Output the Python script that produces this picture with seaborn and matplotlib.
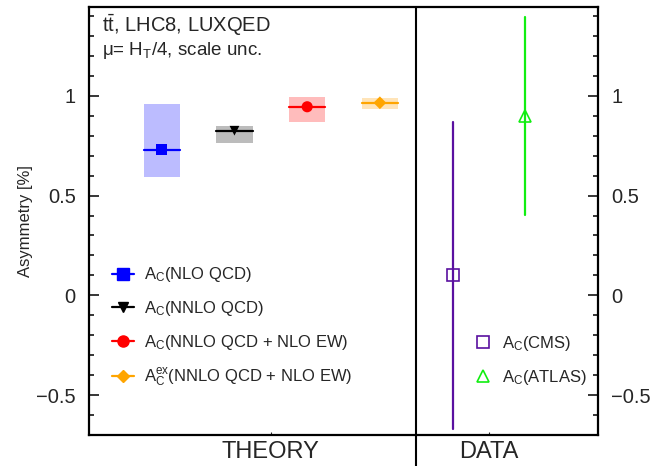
import numpy as np
import pandas as pd
import matplotlib
matplotlib.use('Agg')
import matplotlib.pyplot as plt
from matplotlib.lines import Line2D
from matplotlib.ticker import MultipleLocator, FixedLocator
import seaborn as sns

# --- Data ---
theory_labels = ['$\\mathrm{A_C}$(NLO QCD)',
                 '$\\mathrm{A_C}$(NNLO QCD)',
                 '$\\mathrm{A_C}$(NNLO QCD + NLO EW)',
                 '$\\mathrm{A_C^{ex}}$(NNLO QCD + NLO EW)']
theory_pos = [1, 2, 3, 4]
theory_val = [0.73, 0.825, 0.945, 0.965]
theory_lo = [0.595, 0.765, 0.87, 0.935]
theory_hi = [0.96, 0.85, 0.995, 0.99]

data_labels = ['$\\mathrm{A_C}$(CMS)', '$\\mathrm{A_C}$(ATLAS)']
data_pos = [5, 6]
data_val = [0.10, 0.90]
data_lo = [-0.67, 0.405]
data_hi = [0.87, 1.395]

group_labels = ['THEORY', 'DATA']
group_pos = [2.5, 5.5]
divider_pos = 4.5

ytick_vals = [-0.5, 0, 0.5, 1]
ytick_labels = ['\u22120.5', '0', '0.5', '1']

# --- Style ---
sns.set_theme(style="ticks")
plt.rcParams['font.family'] = ['Liberation Sans', 'DejaVu Sans']
plt.rcParams['mathtext.fontset'] = 'custom'
plt.rcParams['mathtext.rm'] = 'Liberation Sans'
plt.rcParams['mathtext.it'] = 'Liberation Sans:italic'
plt.rcParams['mathtext.bf'] = 'Liberation Sans:bold'

theory_colors = ['#0000ff', '#000000', '#ff0000', '#ffa500']
theory_fills = ['#bcbcff', '#bcbcbc', '#ffbcbc', '#ffe4b8']
theory_markers = ['s', 'v', 'o', 'D']
theory_ms = [8, 7, 8, 6.5]
data_colors = ['#5a10a0', '#11ee11']
data_markers = ['s', '^']

fig = plt.figure(figsize=(6.5, 4.66), dpi=100)
ax = fig.add_axes([0.137, 0.0665, 0.783, 0.9185])

# theory: scale-uncertainty boxes with central line + marker
for i in range(len(theory_pos)):
    x = theory_pos[i]
    ax.bar(x, theory_hi[i] - theory_lo[i], bottom=theory_lo[i], width=0.5,
           color=theory_fills[i], edgecolor='none', zorder=1)
    ax.plot([x - 0.25, x + 0.25], [theory_val[i]] * 2, color=theory_colors[i],
            lw=1.6, zorder=2)

df_th = pd.DataFrame({'x': theory_pos, 'y': theory_val, 'lab': theory_labels})
sns.scatterplot(data=df_th, x='x', y='y', hue='lab', style='lab', size='lab',
                palette=dict(zip(theory_labels, theory_colors)),
                markers=dict(zip(theory_labels, theory_markers)),
                sizes=dict(zip(theory_labels, [m ** 2 for m in theory_ms])),
                edgecolor='none', legend=False, ax=ax, zorder=3)

# data: error bars with open markers
for i in range(len(data_pos)):
    ax.plot([data_pos[i]] * 2, [data_lo[i], data_hi[i]], color=data_colors[i],
            lw=1.6, zorder=2)
    ax.plot(data_pos[i], data_val[i], linestyle='none', marker=data_markers[i],
            ms=9, mfc='none', mec=data_colors[i], mew=1.2, zorder=3)

# divider between theory and data
ax.axvline(divider_pos, ymin=-0.075, ymax=1, color='black', lw=1.5,
           clip_on=False, zorder=4)

# --- Axes ---
ax.set_xlim(0, 7)
ax.set_ylim(-0.7, 1.445)
ax.xaxis.set_major_locator(FixedLocator(group_pos))
ax.set_xticklabels(group_labels, fontsize=17)
ax.yaxis.set_major_locator(FixedLocator(ytick_vals))
ax.set_yticklabels(ytick_labels, fontsize=14.5)
ax.yaxis.set_minor_locator(MultipleLocator(0.1))
ax.tick_params(axis='y', which='both', direction='in', left=True, right=True,
               labelleft=True, labelright=True, width=1.3, pad=9.5)
ax.tick_params(axis='y', which='major', length=7)
ax.tick_params(axis='y', which='minor', length=3.5)
ax.tick_params(axis='x', which='both', direction='in', length=2, width=0.8,
               pad=4, top=False)
ax.xaxis.set_minor_locator(FixedLocator([]))
for sp in ax.spines.values():
    sp.set_linewidth(1.6)
    sp.set_color('black')
ax.set_xlabel('')
ax.set_ylabel('Asymmetry [%]', fontsize=12, labelpad=2)

# annotations
ax.text(0.026, 0.942, '$\\mathrm{t\\bar{t}}$, LHC8, LUXQED', transform=ax.transAxes,
        fontsize=14.5, ha='left', va='baseline')
ax.text(0.026, 0.888, '\u03bc= H$_\\mathrm{T}$/4, scale unc.', transform=ax.transAxes,
        fontsize=13.5, ha='left', va='baseline')

# legends
th_handles = [Line2D([], [], color=theory_colors[i], lw=1.6, marker=theory_markers[i],
                     ms=theory_ms[i], mec=theory_colors[i])
              for i in range(len(theory_labels))]
leg1 = ax.legend(th_handles, theory_labels, loc='center left',
                 bbox_to_anchor=(0.045, 0.252), frameon=False, fontsize=12,
                 handlelength=1.3, handletextpad=0.6, labelspacing=0.88,
                 borderpad=0, borderaxespad=0)
ax.add_artist(leg1)

da_handles = [Line2D([], [], linestyle='none', marker=data_markers[i], ms=9,
                     mfc='none', mec=data_colors[i], mew=1.2)
              for i in range(len(data_labels))]
ax.legend(da_handles, data_labels, loc='center left',
          bbox_to_anchor=(0.753, 0.174), frameon=False, fontsize=12,
          handlelength=1.3, handletextpad=0.5, labelspacing=0.88,
          borderpad=0, borderaxespad=0)

fig.savefig('out.png', dpi=100)
